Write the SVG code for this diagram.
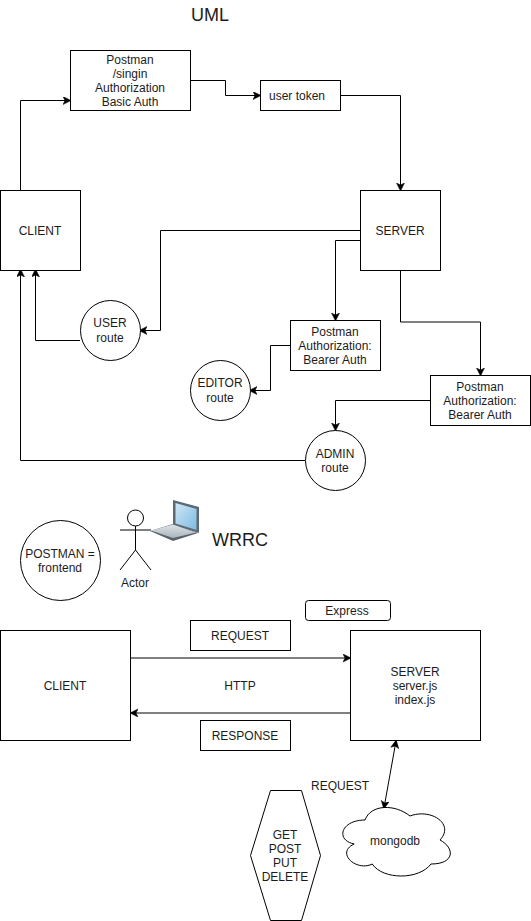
<svg xmlns="http://www.w3.org/2000/svg" width="531" height="921" viewBox="0 0 531 921">
<style>
.s{fill:#fff;stroke:#000;stroke-width:1}
text{font-family:"Liberation Sans",Arial,sans-serif;font-size:12px;fill:#1c1c1c;text-anchor:middle}
.c path{fill:none;stroke:#000;stroke-width:1}
.h{font-size:18px}
</style>
<defs>
<marker id="a" markerUnits="userSpaceOnUse" markerWidth="10" markerHeight="10" refX="7" refY="4" orient="auto"><path d="M0 0L8 4L0 8L2 4Z" fill="#000" stroke="#000" stroke-width="0.5"/></marker>
<marker id="b" markerUnits="userSpaceOnUse" markerWidth="10" markerHeight="10" refX="1" refY="4" orient="auto"><path d="M8 0L0 4L8 8L6 4Z" fill="#000" stroke="#000" stroke-width="0.5"/></marker>
<linearGradient id="scr" x1="0" y1="0" x2="1" y2="1"><stop offset="0" stop-color="#cfe6f6"/><stop offset="1" stop-color="#7fbbe2"/></linearGradient>
<linearGradient id="base" x1="0" y1="0" x2="0" y2="1"><stop offset="0" stop-color="#dfe4e8"/><stop offset="1" stop-color="#aab4bc"/></linearGradient>
</defs>
<g class="c" id="connectors">
<path d="M20.500 190V100.500H70" marker-end="url(#a)"/>
<path d="M190.500 80.500H225.500V95.500H260" marker-end="url(#a)"/>
<path d="M340 95.500H400.500V190" marker-end="url(#a)"/>
<path d="M360 230.500H160.500V330.500H140" marker-end="url(#a)"/>
<path d="M360 240.500H335.500V320" marker-end="url(#a)"/>
<path d="M400.500 270V322H480.500V375" marker-end="url(#a)"/>
<path d="M290 345.500H270.500V390.500H250" marker-end="url(#a)"/>
<path d="M430 400.500H335.500V430" marker-end="url(#a)"/>
<path d="M80 340.500H35.500V270" marker-end="url(#a)"/>
<path d="M305 460.500H20.500V270" marker-end="url(#a)"/>
<path d="M130 658H350" marker-end="url(#a)"/>
<path d="M350 713H131" marker-end="url(#a)"/>
<path d="M396 741L384 808" marker-start="url(#b)" marker-end="url(#a)"/>
</g>
<text class="h" x="210" y="21">UML</text>
<g id="postman-signin"><rect class="s" x="70.500" y="50.500" width="120" height="60"/><text x="130" y="64">Postman</text><text x="130" y="78">/singin</text><text x="130" y="92">Authorization</text><text x="130" y="106">Basic Auth</text></g>
<g id="user-token"><rect class="s" x="260.500" y="80.500" width="80" height="30"/><text x="297" y="100">user token</text></g>
<g id="client-top"><rect class="s" x="0.500" y="190.500" width="80" height="80"/><text x="40" y="235">CLIENT</text></g>
<g id="server-top"><rect class="s" x="360.500" y="190.500" width="80" height="80"/><text x="400" y="235">SERVER</text></g>
<g id="user-route"><circle class="s" cx="110.500" cy="330.500" r="30"/><text x="110" y="327">USER</text><text x="110" y="342">route</text></g>
<g id="editor-route"><circle class="s" cx="220.500" cy="390.500" r="30"/><text x="220" y="387">EDITOR</text><text x="220" y="402">route</text></g>
<g id="admin-route"><circle class="s" cx="335.500" cy="460.500" r="30"/><text x="335" y="458">ADMIN</text><text x="335" y="472">route</text></g>
<g id="postman-bearer-1"><rect class="s" x="290.500" y="320.500" width="90" height="50"/><text x="335" y="336">Postman</text><text x="335" y="350">Authorization:</text><text x="335" y="364">Bearer Auth</text></g>
<g id="postman-bearer-2"><rect class="s" x="430.500" y="375.500" width="100" height="50"/><text x="480" y="391">Postman</text><text x="480" y="405">Authorization:</text><text x="480" y="419">Bearer Auth</text></g>
<g id="postman-frontend"><circle class="s" cx="60.500" cy="560.500" r="40"/><text x="60" y="558">POSTMAN =</text><text x="60" y="572">frontend</text></g>
<g id="actor" fill="none" stroke="#000" stroke-width="1"><circle cx="135.500" cy="518" r="8" fill="#fff"/><path d="M135.500 526V550M120 530H151M135.500 550L120 570M135.500 550L151 570"/><text x="135" y="587" stroke="none">Actor</text></g>
<g id="laptop"><path d="M173 500L199 507V533L173 525Z" fill="#5c6a75"/><path d="M175.500 503L196.500 509V530L175.500 523.500Z" fill="url(#scr)"/><path d="M150 531L173 524L198 533L173 541Z" fill="#57636d"/><path d="M151 530.500L173 524.500L196 532.500L173 538Z" fill="url(#base)"/></g>
<text class="h" x="240" y="546">WRRC</text>
<g id="express"><rect class="s" x="305.500" y="600.500" width="85" height="20" rx="3"/><text x="347" y="615">Express</text></g>
<g id="request-label"><rect class="s" x="190.500" y="620.500" width="100" height="30"/><text x="240" y="640">REQUEST</text></g>
<g id="client-bottom"><rect class="s" x="0.500" y="630.500" width="130" height="110"/><text x="65" y="690">CLIENT</text></g>
<g id="server-bottom"><rect class="s" x="350.500" y="630.500" width="130" height="110"/><text x="415" y="676">SERVER</text><text x="415" y="690">server.js</text><text x="415" y="704">index.js</text></g>
<text x="240" y="690">HTTP</text>
<g id="response-label"><rect class="s" x="200.500" y="720.500" width="90" height="30"/><text x="245" y="740">RESPONSE</text></g>
<text x="340" y="790">REQUEST</text>
<g id="methods"><path class="s" d="M270.500 790.500H301.500L320.500 855.500L301.500 920.500H270.500L250.500 855.500Z"/><text x="285" y="839">GET</text><text x="285" y="853">POST</text><text x="285" y="867">PUT</text><text x="285" y="881">DELETE</text></g>
<g id="mongodb"><path class="s" d="M365 820C341 820 335 840 354.200 844C335 852.800 356.600 872 372.200 864C383 880 419 880 431 864C455 864 455 848 440 840C455 824 431 808 410 816C395 804 371 804 365 820Z"/><text x="395" y="845">mongodb</text></g>
</svg>
